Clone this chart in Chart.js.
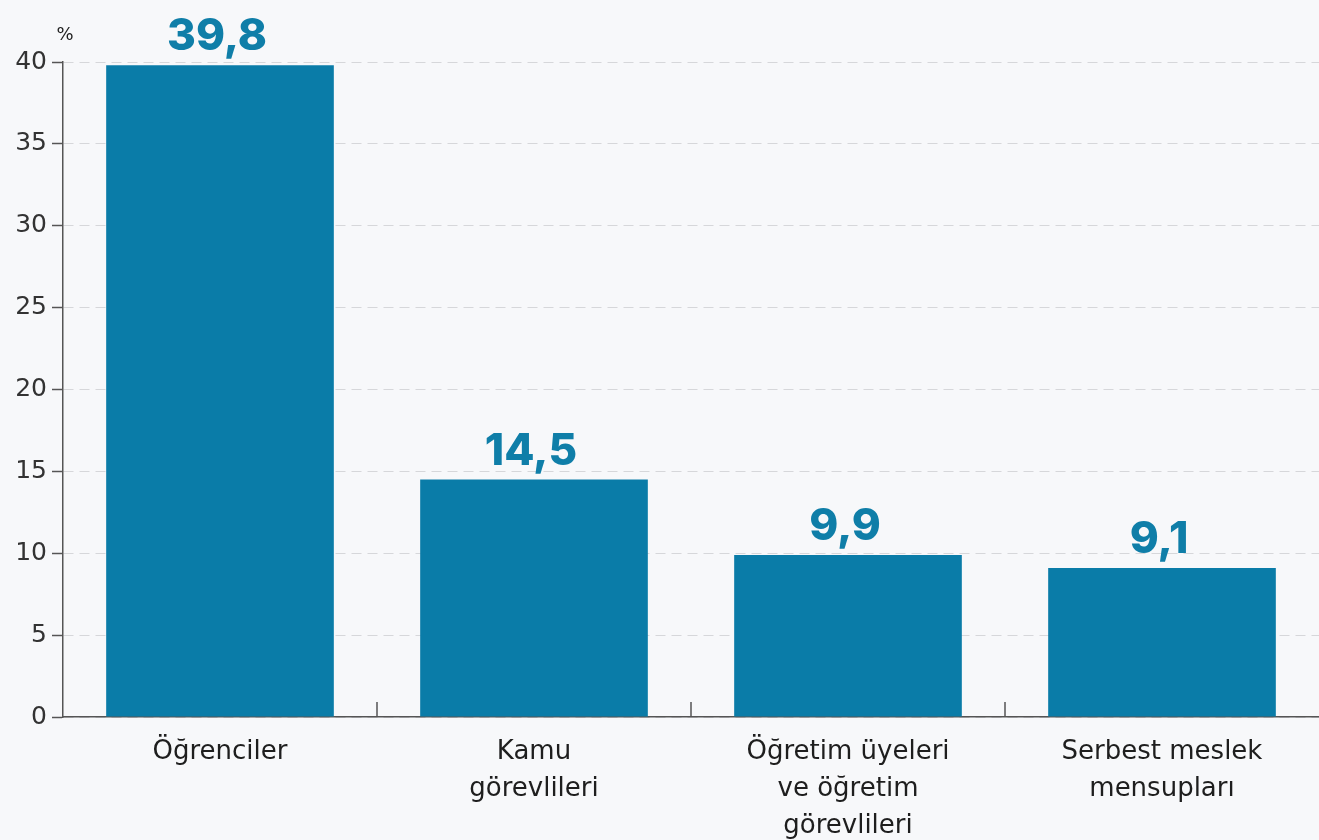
<!DOCTYPE html>
<html>
<head>
<meta charset="utf-8">
<script src="https://cdn.jsdelivr.net/npm/chart.js@4.4.1/dist/chart.umd.min.js"></script>
<style>
  html, body { margin: 0; padding: 0; background: #f7f8fa; }
  canvas { display: block; }
</style>
</head>
<body>
<canvas id="chart" width="1319" height="840"></canvas>
<script>
const categories = [
    ['Öğrenciler'],
    ['Kamu', 'görevlileri'],
    ['Öğretim üyeleri', 've öğretim', 'görevlileri'],
    ['Serbest meslek', 'mensupları']
];
const values = [39.8, 14.5, 9.9, 9.1];
const valueLabels = ['39,8', '14,5', '9,9', '9,1'];
const yTicks = [0, 5, 10, 15, 20, 25, 30, 35, 40];

const barColor = '#0a7ca8';
const textColor = '#1e1e1e';
const axisColor = '#555555';

const background = {
    id: 'customCanvasBackgroundColor',
    beforeDraw: (chart) => {
        const { ctx } = chart;
        ctx.save();
        ctx.globalCompositeOperation = 'destination-over';
        ctx.fillStyle = '#f7f8fa';
        ctx.fillRect(0, 0, chart.width, chart.height);
        ctx.restore();
    }
};

// value labels above the bars, percent sign, and the upward category ticks
const extras = {
    id: 'extras',
    afterDatasetsDraw: (chart) => {
        const { ctx } = chart;
        const meta = chart.getDatasetMeta(0);
        const x = chart.scales.x;
        const y = chart.scales.y;
        ctx.save();

        ctx.fillStyle = '#0f7ea8';
        ctx.font = '800 44px Inter';
        ctx.textAlign = 'center';
        ctx.textBaseline = 'alphabetic';
        meta.data.forEach((bar, i) => {
            ctx.fillText(valueLabels[i], bar.x - 3, bar.y - 15);
        });

        ctx.fillStyle = textColor;
        ctx.font = '18px "DejaVu Sans"';
        ctx.textAlign = 'center';
        ctx.fillText('%', y.right + 2, y.top - 22);

        ctx.strokeStyle = axisColor;
        ctx.lineWidth = 1.5;
        for (let i = 0; i < categories.length - 1; i++) {
            const bx = (x.getPixelForValue(i) + x.getPixelForValue(i + 1)) / 2;
            ctx.beginPath();
            ctx.moveTo(bx, y.bottom);
            ctx.lineTo(bx, y.bottom - 15);
            ctx.stroke();
        }
        ctx.restore();
    }
};

const ctx = document.getElementById('chart');
const myChart = new Chart(ctx, {
    type: 'bar',
    data: {
        labels: categories,
        datasets: [{
            data: values,
            backgroundColor: barColor,
            borderWidth: 0,
            barPercentage: 0.725,
            categoryPercentage: 1
        }]
    },
    options: {
        responsive: false,
        animation: false,
        devicePixelRatio: 1,
        layout: { padding: { top: 62, right: 0, left: 0, bottom: 0 } },
        plugins: {
            legend: { display: false },
            tooltip: { enabled: false }
        },
        scales: {
            x: {
                grid: { display: false },
                border: { display: true, color: axisColor, width: 1.5 },
                ticks: {
                    color: textColor,
                    font: { family: 'DejaVu Sans', size: 26, lineHeight: 1.42 },
                    padding: 9,
                    maxRotation: 0
                },
                afterFit: (scale) => { scale.height = 123; }
            },
            y: {
                min: 0,
                max: 40,
                afterBuildTicks: (scale) => {
                    scale.ticks = yTicks.map(v => ({ value: v }));
                },
                grid: {
                    color: '#d6d7da',
                    lineWidth: 1,
                    tickColor: axisColor,
                    tickLength: 11,
                    tickBorderDash: [],
                    tickWidth: 1.5
                },
                border: { display: true, color: axisColor, width: 1.5, dash: [10, 6] },
                ticks: {
                    color: '#333333',
                    font: { family: 'DejaVu Sans', size: 25 },
                    padding: 5
                },
                afterFit: (scale) => { scale.width = 63; }
            }
        }
    },
    plugins: [background, extras]
});
</script>
</body>
</html>
